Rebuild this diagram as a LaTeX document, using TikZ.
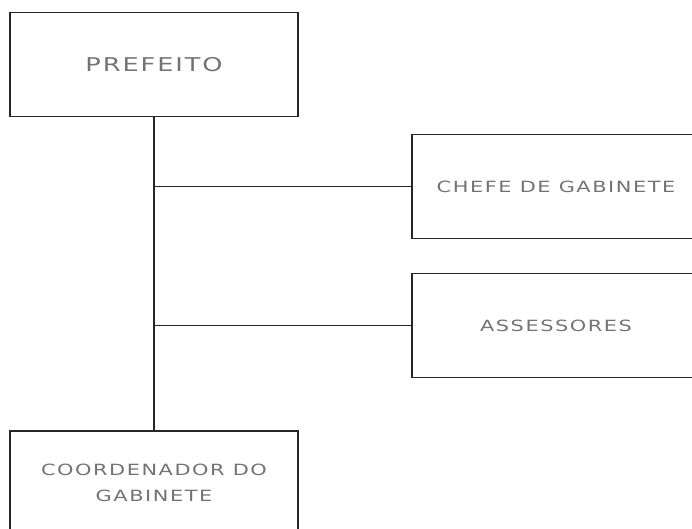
\documentclass[tikz,border=0pt]{standalone}
\usepackage{fontspec}
\newfontfamily\cargofont[FakeStretch=1.35, LetterSpace=10]{DejaVu Sans}
\usepackage{tikz}
\usetikzlibrary{calc}
\tikzset{cargo/.style={draw=black!85, line width=0.9pt, minimum width=7.2cm, minimum height=2.6cm,
    text=black!55, font=\cargofont\fontsize{11}{18}\selectfont, align=center},
  topo/.style={cargo, font=\cargofont\fontsize{13.5}{18.5}\selectfont}}

\begin{document}
\begin{tikzpicture}[x=0.025cm, y=-0.025cm]
    \useasboundingbox (0, 0) rectangle (692, 528);
    \clip (0, 0) rectangle (692, 528);
    \node[topo] at (154, 64.5) (prefeito) {PREFEITO};
    \node[cargo] at (556, 186.5) (chefe) {CHEFE DE GABINETE};
    \node[cargo] at (556, 325.5) (assessores) {ASSESSORES};
    \node[cargo] at (154, 483) (coord) {COORDENADOR DO\\GABINETE};

    % tronco e ramos
    \draw[line width=0.9pt, black!85] (prefeito.south) -- (coord.north);
    \coordinate (r1) at (prefeito.south |- chefe.west);
    \coordinate (r2) at (prefeito.south |- assessores.west);
    \draw[line width=0.9pt, black!85] (r1) -- (chefe.west);
    \draw[line width=0.9pt, black!85] (r2) -- (assessores.west);
\end{tikzpicture}
\end{document}
